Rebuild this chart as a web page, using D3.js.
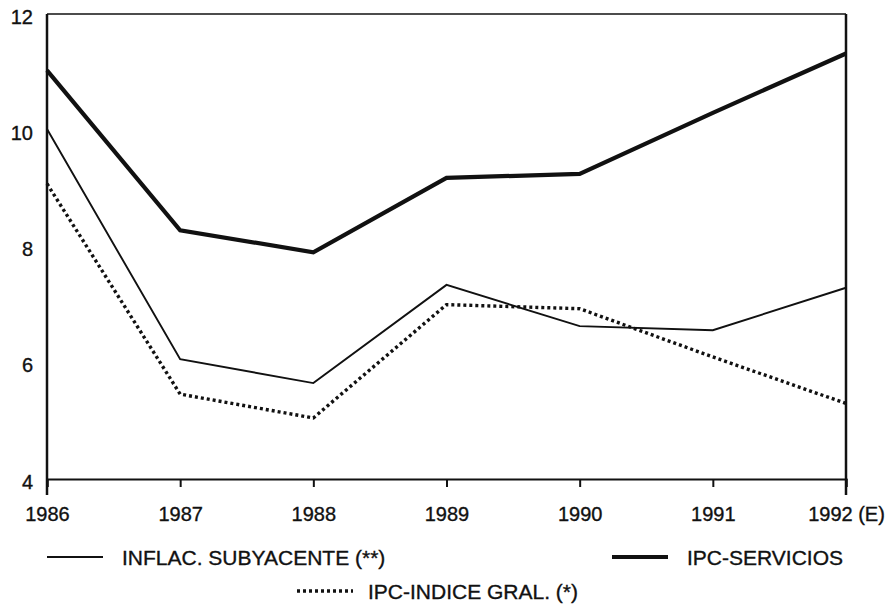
<!DOCTYPE html>
<html>
<head>
<meta charset="utf-8">
<script src="https://cdn.jsdelivr.net/npm/d3@7"></script>
<style>
  body { margin: 0; background: #fff; }
  svg { display: block; font-family: "Liberation Sans", Arial, Helvetica, sans-serif; }
  text { stroke: #111; stroke-width: 0.35px; }
</style>
</head>
<body>
<svg id="chart"></svg>
<script>
const years = ['1986', '1987', '1988', '1989', '1990', '1991', '1992 (E)'];
const yTicks = [4, 6, 8, 10, 12];

const ipcServicios = [11.03, 8.28, 7.9, 9.18, 9.25, 10.3, 11.32];
const inflacSubyacente = [10.02, 6.06, 5.65, 7.34, 6.63, 6.56, 7.29];
const ipcGeneral = [9.08, 5.46, 5.05, 7.0, 6.93, 6.1, 5.3];

const width = 892, height = 612;
const margin = { top: 14, right: 46, bottom: 133, left: 47 };
const innerW = width - margin.left - margin.right;
const innerH = height - margin.top - margin.bottom;

const svg = d3.select('#chart').attr('width', width).attr('height', height);
const g = svg.append('g').attr('transform', `translate(${margin.left},${margin.top})`);

const x = d3.scalePoint().domain(years).range([0, innerW]);
const y = d3.scaleLinear().domain([4, 12]).range([innerH, 0]);

// Frame
g.append('line').attr('x1', 0).attr('x2', innerW).attr('y1', 0).attr('y2', 0)
    .attr('stroke', '#111').attr('stroke-width', 1.6);
g.append('line').attr('x1', 0).attr('x2', 0).attr('y1', 0).attr('y2', innerH + 16)
    .attr('stroke', '#111').attr('stroke-width', 2.5);
g.append('line').attr('x1', innerW).attr('x2', innerW).attr('y1', 0).attr('y2', innerH + 16)
    .attr('stroke', '#111').attr('stroke-width', 2.5);

// X axis
const xAxis = g.append('g')
    .attr('transform', `translate(0,${innerH})`)
    .call(d3.axisBottom(x).tickSize(8).tickPadding(20));
xAxis.select('.domain').attr('stroke', '#111').attr('stroke-width', 2.2);
xAxis.selectAll('.tick line').attr('stroke', '#111').attr('stroke-width', 2);
xAxis.selectAll('.tick text')
    .attr('font-size', '20px')
    .attr('fill', '#111')
    .attr('font-family', '"Liberation Sans", Arial, sans-serif');

// Y axis labels
const yAxis = g.append('g')
    .call(d3.axisLeft(y).tickValues(yTicks).tickSize(0).tickPadding(14));
yAxis.select('.domain').remove();
yAxis.selectAll('.tick text')
    .attr('font-size', '20px')
    .attr('dy', '0.45em')
    .attr('fill', '#111')
    .attr('font-family', '"Liberation Sans", Arial, sans-serif');

const line = d3.line()
    .x((d, i) => x(years[i]))
    .y(d => y(d));

const series = [
    { name: 'INFLAC. SUBYACENTE (**)', values: inflacSubyacente, width: 1.9, dash: null },
    { name: 'IPC-SERVICIOS', values: ipcServicios, width: 4.2, dash: null },
    { name: 'IPC-INDICE GRAL. (*)', values: ipcGeneral, width: 3.4, dash: '3,3' }
];

series.forEach(s => {
    g.append('path')
        .datum(s.values)
        .attr('fill', 'none')
        .attr('stroke', '#111')
        .attr('stroke-width', s.width)
        .attr('stroke-linejoin', 'miter')
        .attr('stroke-dasharray', s.dash)
        .attr('d', line);
});

// Legend
const legendPos = [
    { x: 47, y: 557 },
    { x: 612, y: 557 },
    { x: 297, y: 591 }
];

series.forEach((s, i) => {
    const p = legendPos[i];
    const lg = svg.append('g').attr('transform', `translate(${p.x},${p.y})`);
    lg.append('line')
        .attr('x1', 0).attr('x2', 56).attr('y1', 0).attr('y2', 0)
        .attr('stroke', '#111')
        .attr('stroke-width', s.width)
        .attr('stroke-dasharray', s.dash);
    lg.append('text')
        .attr('x', i === 2 ? 71 : 75)
        .attr('y', 8)
        .attr('font-size', '21px')
        .attr('fill', '#111')
        .text(s.name);
});
</script>
</body>
</html>
